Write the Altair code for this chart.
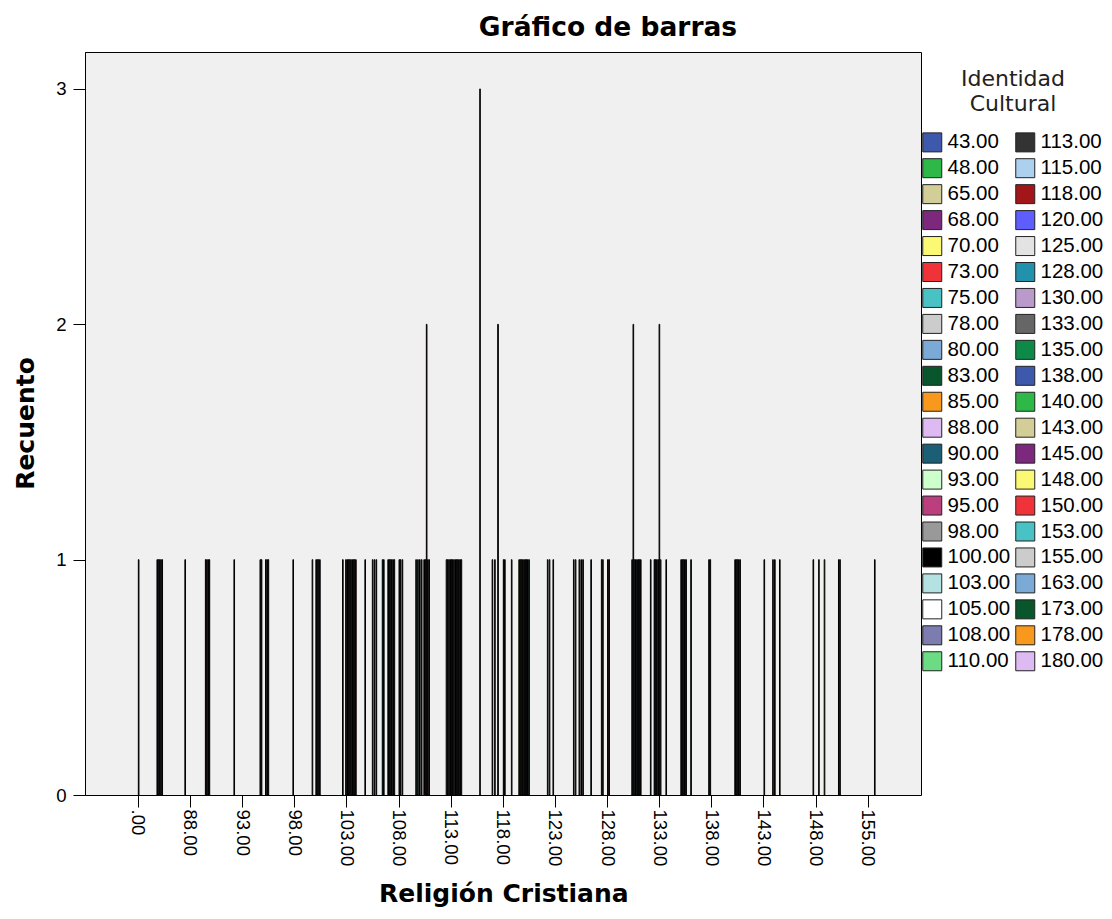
import altair as alt
import pandas as pd

# X categories (Religión Cristiana) and the labels the axis shows
religion_values = [".00", "85.00", "88.00", "90.00", "93.00", "95.00", "98.00", "100.00",
                   "103.00", "105.00", "108.00", "110.00", "113.00", "115.00", "118.00",
                   "120.00", "123.00", "125.00", "128.00", "130.00", "133.00", "135.00",
                   "138.00", "140.00", "143.00", "145.00", "148.00", "150.00", "155.00"]
religion_tick_labels = [".00", "88.00", "93.00", "98.00", "103.00", "108.00", "113.00",
                        "118.00", "123.00", "128.00", "133.00", "138.00", "143.00",
                        "148.00", "155.00"]

# Legend categories (Identidad Cultural) and their colours
identity_values = [43, 48, 65, 68, 70, 73, 75, 78, 80, 83, 85, 88, 90, 93, 95, 98, 100,
                   103, 105, 108, 110, 113, 115, 118, 120, 125, 128, 130, 133, 135, 138,
                   140, 143, 145, 148, 150, 153, 155, 163, 173, 178, 180]
identity_colors = ["#3E58AC", "#2EB848", "#D3CE97", "#7C287D", "#FBF873", "#EF3338",
                   "#48C2C5", "#CCCCCC", "#7AAAD5", "#0A562C", "#F8981D", "#DDBAF1",
                   "#1A5F76", "#CCFFCC", "#BB3F7F", "#999999", "#000000", "#B4E2E2",
                   "#FFFFFF", "#7C7CB0", "#6CDC84", "#333333", "#ACD0EE", "#A21619",
                   "#5E5EFF", "#E3E3E3", "#2291AB", "#B99ACB", "#666666", "#0E8A48",
                   "#3E58AC", "#2EB848", "#D3CE97", "#7C287D", "#FBF873", "#EF3338",
                   "#48C2C5", "#CCCCCC", "#7AAAD5", "#0A562C", "#F8981D", "#DDBAF1"]

# Non-zero bars: identity values present in each religion category, and their counts
identities_by_religion = [
    [113],
    [83, 88, 93, 98, 103],
    [90],
    [68, 73, 78, 83],
    [78],
    [78, 83, 100, 105, 110],
    [105],
    [78, 93, 98, 103, 108],
    [95, 108, 113, 118, 125, 130, 135, 140, 145, 150],
    [80, 110, 118, 128, 153, 163],
    [68, 73, 78, 83, 88, 93, 113, 118, 128],
    [75, 83, 90, 98, 108, 113, 118, 125, 130],
    [93, 98, 103, 108, 113, 118, 125, 130, 135, 140, 145, 150, 155],
    [125],
    [68, 78, 90, 113, 118, 148],
    [70, 75, 80, 85, 90, 95, 100, 105, 110],
    [80, 88, 103],
    [80, 88, 103, 110, 118, 153],
    [88, 93, 113, 118],
    [105, 110, 115, 120, 128, 133, 138, 143],
    [75, 90, 95, 100, 105, 110, 115, 140],
    [93, 98, 103, 108, 113, 135],
    [100, 105],
    [100, 105, 110, 115, 120],
    [113, 150, 163],
    [70],
    [100, 125, 148],
    [98, 103],
    [140],
]
counts_by_religion = [
    [1],
    [1, 1, 1, 1, 1],
    [1],
    [1, 1, 1, 1],
    [1],
    [1, 1, 1, 1, 1],
    [1],
    [1, 1, 1, 1, 1],
    [1, 1, 1, 1, 1, 1, 1, 1, 1, 1],
    [1, 1, 1, 1, 1, 1],
    [1, 1, 1, 1, 1, 1, 1, 1, 1],
    [1, 1, 1, 1, 1, 1, 2, 1, 1],
    [1, 1, 1, 1, 1, 1, 1, 1, 1, 1, 1, 1, 1],
    [3],
    [1, 1, 2, 1, 1, 1],
    [1, 1, 1, 1, 1, 1, 1, 1, 1],
    [1, 1, 1],
    [1, 1, 1, 1, 1, 1],
    [1, 1, 1, 1],
    [1, 2, 1, 1, 1, 1, 1, 1],
    [1, 1, 1, 1, 1, 2, 1, 1],
    [1, 1, 1, 1, 1, 1],
    [1, 1],
    [1, 1, 1, 1, 1],
    [1, 1, 1],
    [1],
    [1, 1, 1],
    [1, 1],
    [1],
]

rows = []
for rel, idents, counts in zip(religion_values, identities_by_religion, counts_by_religion):
    for ident, cnt in zip(idents, counts):
        rows.append({"religion": rel, "identidad": f"{ident:.2f}", "recuento": cnt})
df = pd.DataFrame(rows)

ident_labels = [f"{v:.2f}" for v in identity_values]

FONT = "Liberation Sans"
TFONT = "DejaVu Sans"
PLOT_W = 836
PLOT_H = 743
X_RANGE = [40.3, 796.3]

chart = alt.Chart(df).mark_bar(stroke="black", strokeWidth=1).encode(
    x=alt.X(
        "religion:N",
        sort=religion_values,
        scale=alt.Scale(domain=religion_values, paddingInner=0, paddingOuter=0,
                        range=X_RANGE),
        axis=alt.Axis(
            values=religion_tick_labels, labelAngle=90, title="Religión Cristiana",
            titleFontSize=25, titleFontWeight="bold", titleY=106,
            titleBaseline="alphabetic",
            labelFontSize=18.6, labelPadding=2, tickSize=12, tickColor="black",
            domainColor="black", labelColor="black", titleColor="black",
            labelFont=FONT, titleFont=TFONT,
        ),
    ),
    xOffset=alt.XOffset(
        "identidad:N",
        scale=alt.Scale(domain=ident_labels, paddingInner=0, paddingOuter=0),
    ),
    y=alt.Y(
        "recuento:Q",
        scale=alt.Scale(domain=[0, 3.157], nice=False),
        axis=alt.Axis(
            values=[0, 1, 2, 3], format="d", grid=False, title="Recuento",
            titleFontSize=25, titleFontWeight="bold", titleX=-60, titleY=371,
            titleBaseline="middle",
            labelFontSize=18.6, labelPadding=7, tickSize=12, tickColor="black",
            domainColor="black", labelColor="black", titleColor="black",
            labelFont=FONT, titleFont=TFONT,
        ),
    ),
    color=alt.Color(
        "identidad:N",
        scale=alt.Scale(domain=ident_labels, range=identity_colors),
        legend=alt.Legend(
            orient="none", legendX=837, legendY=17, columns=2, symbolLimit=60,
            title=["Identidad", "Cultural"], titleAnchor="middle", titleAlign="center",
            titleFontSize=22, titleFontWeight="normal", titleLineHeight=25,
            titlePadding=16, titleFont=TFONT, titleColor="#222222",
            labelFontSize=20.5, labelFont=FONT, labelColor="black", labelOffset=5,
            symbolType="square", symbolSize=361, symbolStrokeColor="#222222",
            symbolStrokeWidth=1, symbolOpacity=1,
            rowPadding=1.95, columnPadding=2, padding=0,
        ),
    ),
).properties(
    width=PLOT_W,
    height=PLOT_H,
    autosize=alt.AutoSizeParams(type="none"),
    padding={"left": 77, "top": 44, "right": 183, "bottom": 112},
    title=alt.Title(
        "Gráfico de barras", fontSize=26.5, fontWeight="bold", font=TFONT, color="black",
        anchor="middle", frame="group", dx=105, offset=11,
    ),
).configure_view(
    fill="#F0F0F0", stroke="black", strokeWidth=1
)

chart.save("out.html", embed_options={"renderer": "svg", "actions": False})
